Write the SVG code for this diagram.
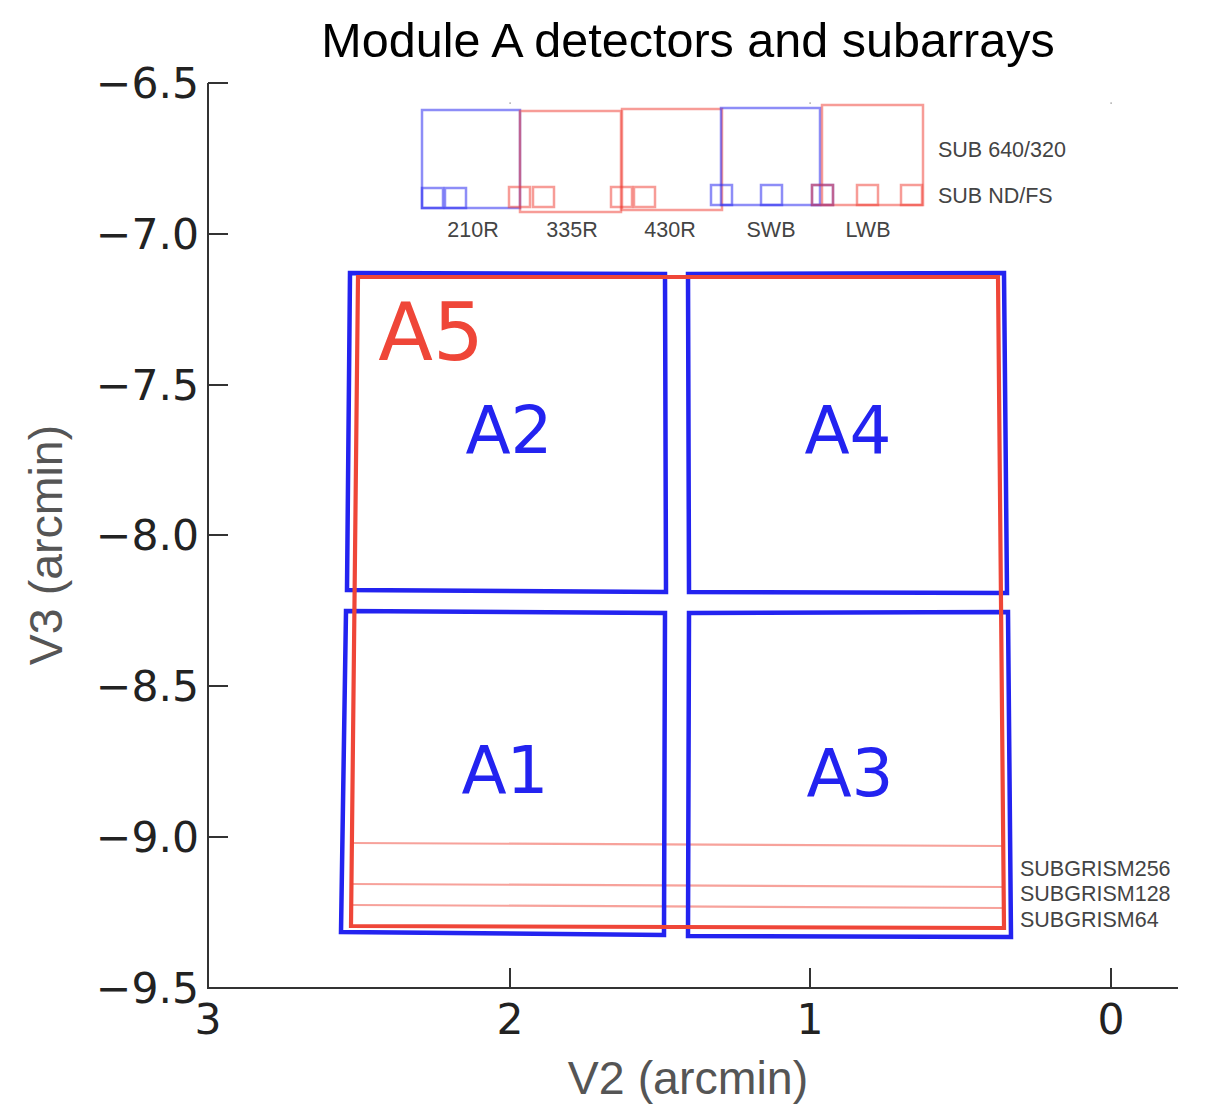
<svg xmlns="http://www.w3.org/2000/svg" width="1206" height="1114" viewBox="0 0 1206 1114">
<style>
.det{fill:none;stroke:#2323f0;stroke-width:4.5;stroke-linejoin:miter}
.a5{fill:none;stroke:#ef4638;stroke-width:4.2}
.sg{stroke:#ef4638;stroke-opacity:0.5;stroke-width:2.2}
.cb{fill:none;stroke:#3030f0;stroke-opacity:0.55;stroke-width:2.5}
.cr{fill:none;stroke:#ef3a30;stroke-opacity:0.5;stroke-width:2.5}
.tick{font-family:"DejaVu Sans",sans-serif;font-size:42.5px;fill:#222}
.small{font-family:"Liberation Sans",Arial,sans-serif;font-size:21.5px;fill:#444}
.big{font-family:"DejaVu Sans",sans-serif;font-size:66px;fill:#2323f0}
.ax{font-family:"Liberation Sans",Arial,sans-serif;font-size:46.5px;fill:#555}
</style>
<rect width="1206" height="1114" fill="#ffffff"/>
<text x="688" y="57" text-anchor="middle" font-family="Liberation Sans, Arial, sans-serif" font-size="48.5" fill="#000">Module A detectors and subarrays</text>
<g id="axes" stroke="#333" stroke-width="2">
<line x1="208" y1="83" x2="208" y2="988"/>
<line x1="207" y1="988" x2="1178" y2="988"/>
<line x1="208" y1="83" x2="228" y2="83"/>
<line x1="208" y1="234" x2="228" y2="234"/>
<line x1="208" y1="385" x2="228" y2="385"/>
<line x1="208" y1="535" x2="228" y2="535"/>
<line x1="208" y1="686" x2="228" y2="686"/>
<line x1="208" y1="837" x2="228" y2="837"/>
<line x1="510" y1="968" x2="510" y2="988"/>
<line x1="810" y1="968" x2="810" y2="988"/>
<line x1="1111" y1="968" x2="1111" y2="988"/>
</g>
<g id="ticklabels">
<text class="tick" x="199" y="98" text-anchor="end">−6.5</text>
<text class="tick" x="199" y="249" text-anchor="end">−7.0</text>
<text class="tick" x="199" y="400" text-anchor="end">−7.5</text>
<text class="tick" x="199" y="550" text-anchor="end">−8.0</text>
<text class="tick" x="199" y="701" text-anchor="end">−8.5</text>
<text class="tick" x="199" y="852" text-anchor="end">−9.0</text>
<text class="tick" x="199" y="1003" text-anchor="end">−9.5</text>
<text class="tick" x="208" y="1034" text-anchor="middle">3</text>
<text class="tick" x="510" y="1034" text-anchor="middle">2</text>
<text class="tick" x="810" y="1034" text-anchor="middle">1</text>
<text class="tick" x="1111" y="1034" text-anchor="middle">0</text>
</g>
<text class="ax" x="688" y="1094" text-anchor="middle">V2 (arcmin)</text>
<text class="ax" x="0" y="0" text-anchor="middle" transform="translate(62,545) rotate(-90)">V3 (arcmin)</text>
<g id="dots" fill="#777">
<rect x="509.5" y="102.5" width="1.2" height="1.2"/>
<rect x="809.5" y="102.5" width="1.2" height="1.2"/>
<rect x="1110.5" y="102.5" width="1.2" height="1.2"/>
</g>
<g id="coronagraph">
<rect class="cb" x="422" y="110" width="98" height="98"/>
<rect class="cr" x="520" y="111" width="101" height="101"/>
<rect class="cr" x="622" y="109" width="100" height="101"/>
<rect class="cb" x="721" y="108" width="99" height="97"/>
<rect class="cr" x="822" y="105" width="101" height="100"/>
<rect class="cb" x="422" y="188" width="21" height="20"/>
<rect class="cb" x="445" y="188" width="21" height="20"/>
<rect class="cr" x="509" y="187" width="21" height="20"/>
<rect class="cr" x="533" y="187" width="21" height="20"/>
<rect class="cr" x="611" y="187" width="21" height="20"/>
<rect class="cr" x="634" y="187" width="21" height="20"/>
<rect class="cb" x="711" y="185" width="21" height="20"/>
<rect class="cb" x="761" y="185" width="21" height="20"/>
<rect class="cb" x="812" y="185" width="21" height="20"/>
<rect class="cr" x="812" y="185" width="21" height="20"/>
<rect class="cr" x="857" y="185" width="21" height="20"/>
<rect class="cr" x="901" y="185" width="21" height="20"/>
<text class="small" x="473" y="237" text-anchor="middle">210R</text>
<text class="small" x="572" y="237" text-anchor="middle">335R</text>
<text class="small" x="670" y="237" text-anchor="middle">430R</text>
<text class="small" x="771" y="237" text-anchor="middle">SWB</text>
<text class="small" x="868" y="237" text-anchor="middle">LWB</text>
<text class="small" x="938" y="157">SUB 640/320</text>
<text class="small" x="938" y="203">SUB ND/FS</text>
</g>
<g id="subgrism">
<line class="sg" x1="352" y1="843" x2="1003" y2="846"/>
<line class="sg" x1="351" y1="884" x2="1003" y2="887"/>
<line class="sg" x1="351" y1="905" x2="1003" y2="908"/>
<text class="small" x="1020" y="876">SUBGRISM256</text>
<text class="small" x="1020" y="901">SUBGRISM128</text>
<text class="small" x="1020" y="927">SUBGRISM64</text>
</g>
<g id="A2"><polygon class="det" points="350,273 665,274 666,592 347,590"/><text class="big" x="509" y="453" text-anchor="middle">A2</text></g>
<g id="A4"><polygon class="det" points="688,274 1004,273 1007,593 689,592"/><text class="big" x="848" y="453" text-anchor="middle">A4</text></g>
<g id="A1"><polygon class="det" points="346,611 665,613 664,935 341,932"/><text class="big" x="505" y="793" text-anchor="middle">A1</text></g>
<g id="A3"><polygon class="det" points="689,613 1008,612 1011,937 688,936"/><text class="big" x="850" y="796" text-anchor="middle">A3</text></g>
<g id="A5"><polygon class="a5" points="358,277 998,277 1004,928 351,926"/><text x="431" y="360" text-anchor="middle" font-family="DejaVu Sans, sans-serif" font-size="80" fill="#ef4638">A5</text></g>
</svg>
